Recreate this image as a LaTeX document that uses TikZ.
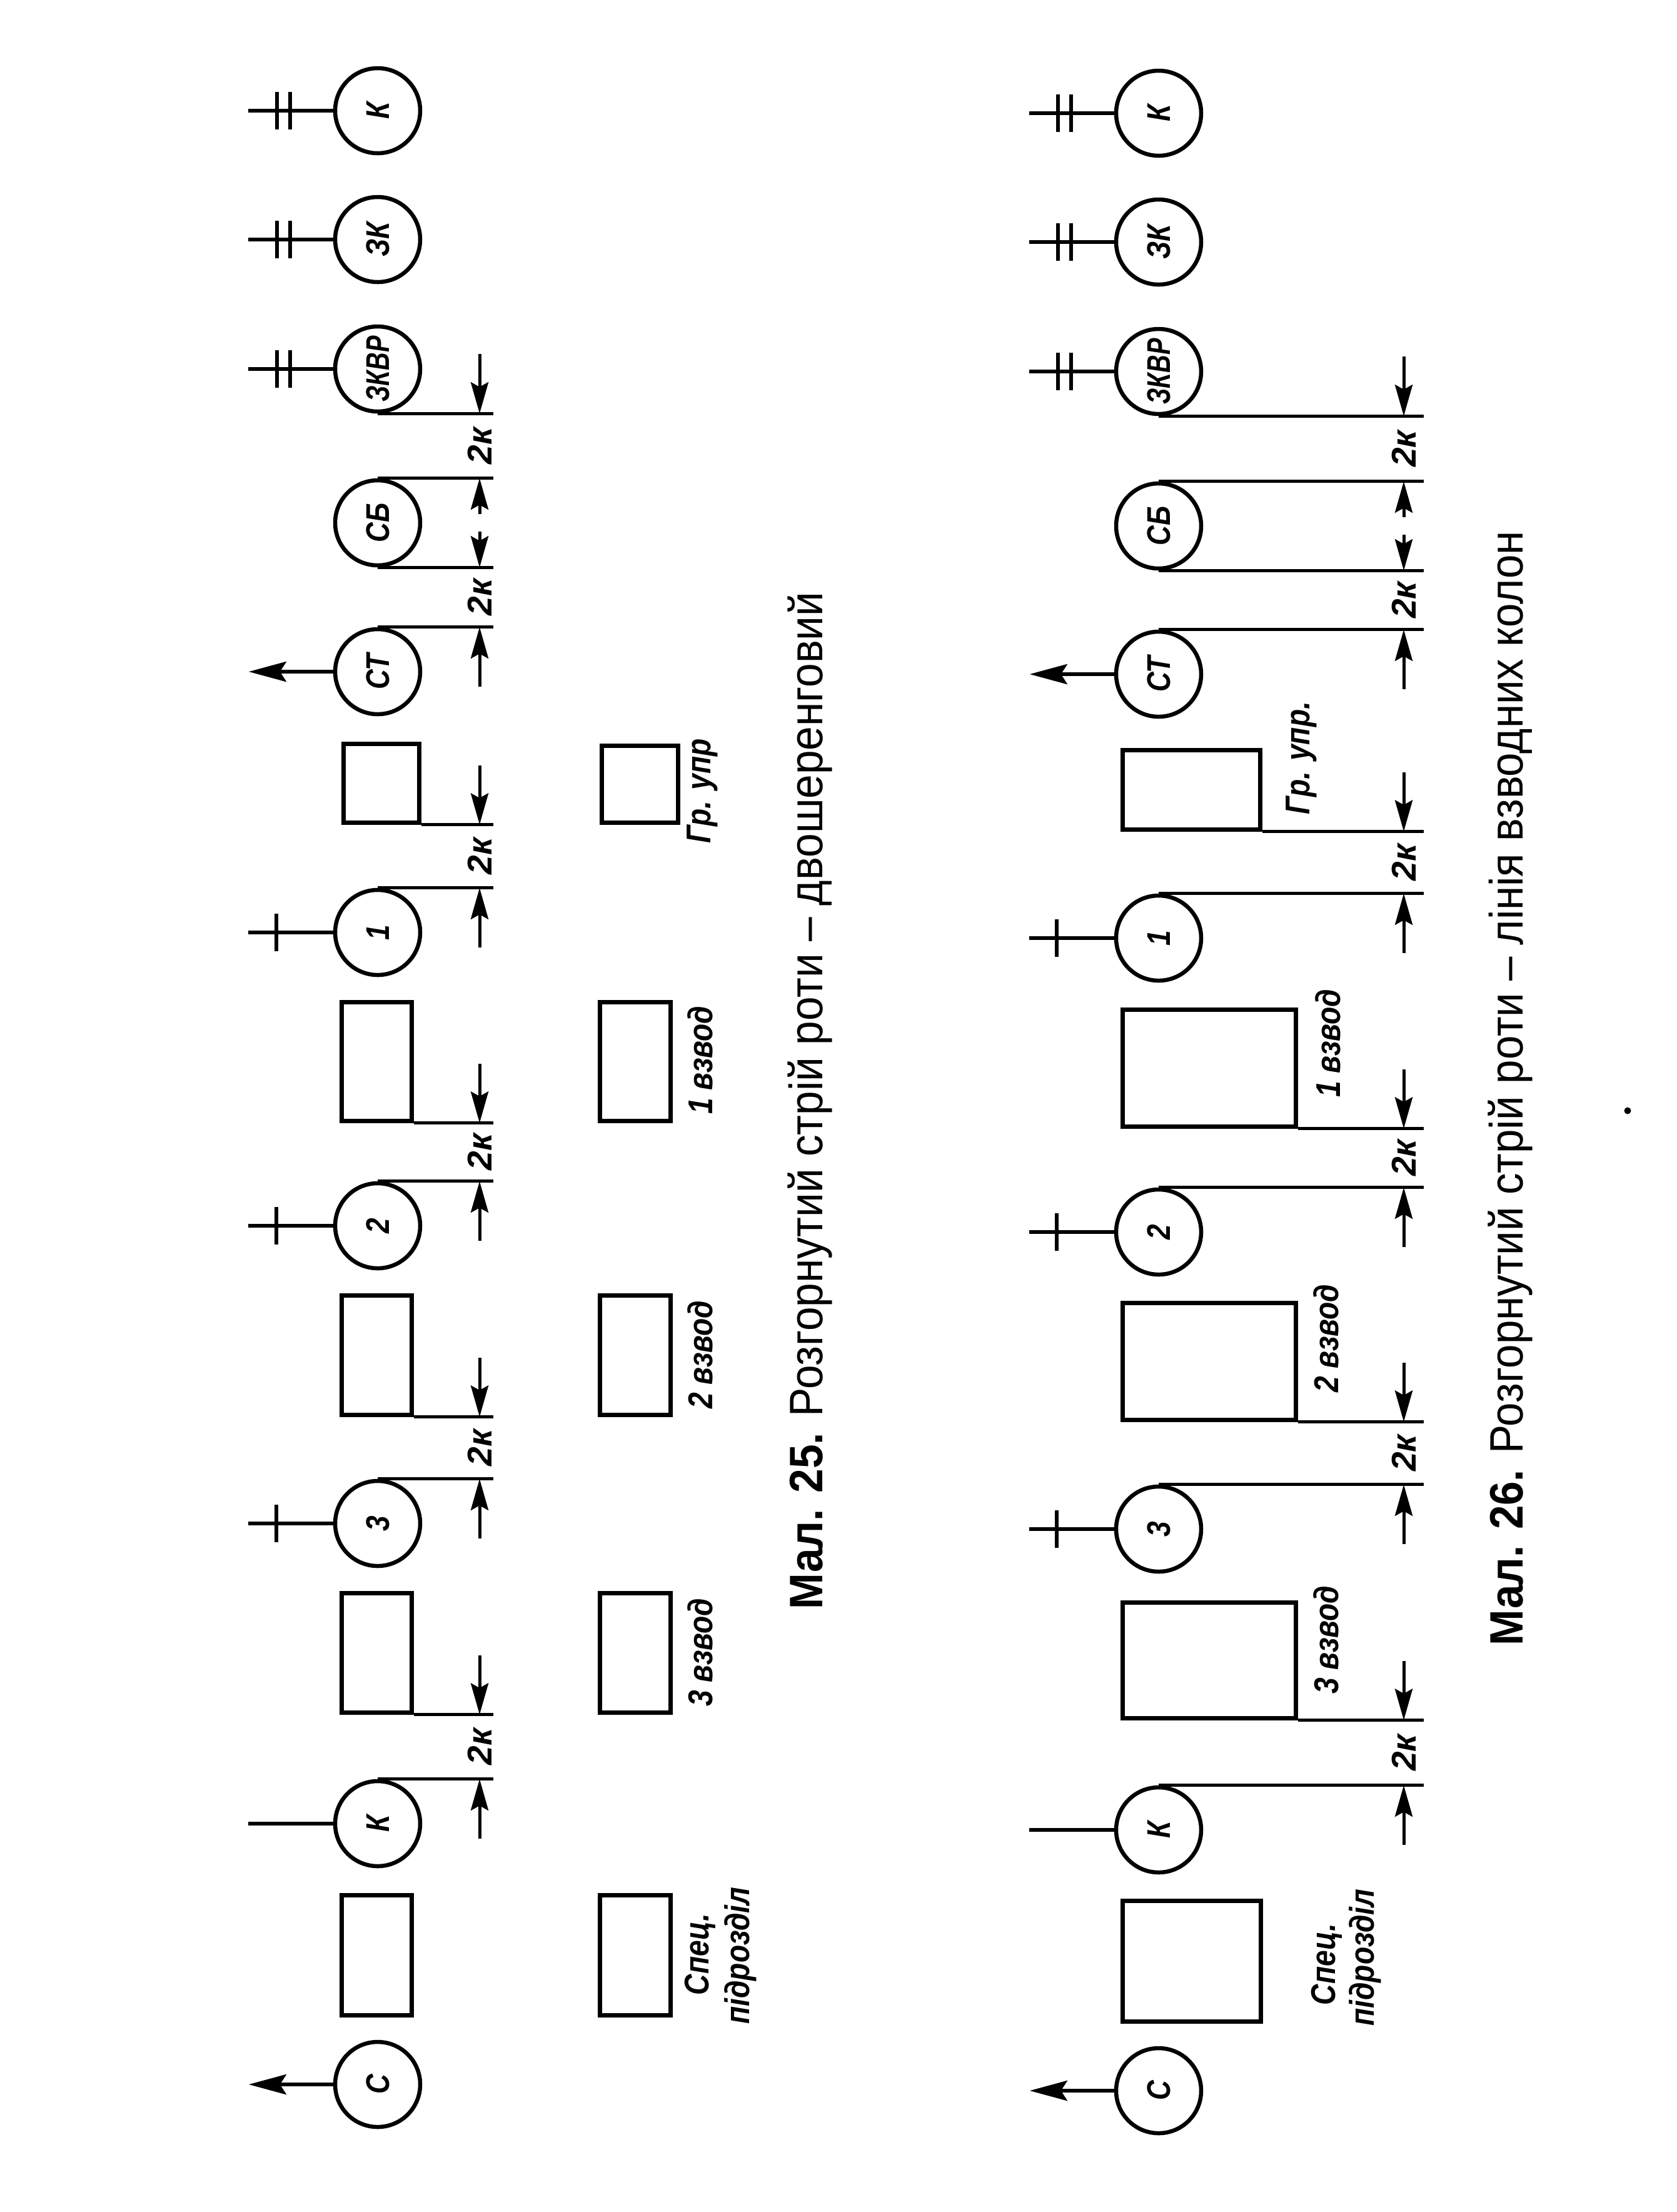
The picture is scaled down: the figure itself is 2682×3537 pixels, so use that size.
\documentclass[tikz,border=0pt]{standalone}
\usepackage{graphicx}
\usepackage{fontspec}
\setmainfont{Liberation Sans}
\newfontfamily\condf[FakeStretch=0.84]{Liberation Sans}
\usetikzlibrary{arrows.meta,calc}
\tikzset{
  ln/.style={line width=1.2pt},
  extl/.style={line width=1pt},
  pers/.style={circle, draw, line width=1.3pt, minimum size=27.2pt, inner sep=0pt,
    font=\condf\bfseries\itshape\fontsize{10.5}{12}\selectfont},
  unit/.style={rectangle, draw, line width=1.4pt, inner sep=0pt},
  dimar/.style={line width=1pt, -{Stealth[length=10pt,width=5.6pt,inset=1.5pt]}},
  movear/.style={line width=1.2pt, -{Stealth[length=12pt,width=6.4pt,inset=2pt]}},
  dimlab/.style={rotate=90, inner sep=0pt, font=\bfseries\itshape\fontsize{11}{13}\selectfont},
  vzlab/.style={rotate=90, inner sep=0pt, font=\condf\bfseries\itshape\fontsize{11}{13}\selectfont},
  grlab/.style={rotate=90, inner sep=0pt, font=\condf\bfseries\itshape\fontsize{11}{13}\selectfont},
  caption/.style={rotate=90, inner sep=0pt, font=\fontsize{15}{18}\selectfont},
}
\newcommand\ubox[5]{\node[unit, minimum width={(#4-#2)*0.2pt}, minimum height={(#5-#3)*0.2pt}] (#1) at ({(#2+#4)/2},{(#3+#5)/2}) {};}
\newcommand\ext[2]{\draw[extl] (#1) -- (#2 |- #1);}
\newcommand\dimpair[6]{%
  \coordinate (#4u) at (#1 |- #2);
  \coordinate (#4l) at (#1 |- #3);
  \draw[dimar] ([yshift=#5]#4u) -- (#4u);
  \draw[dimar] ([yshift=-#6]#4l) -- (#4l);
  \node[dimlab] (#4) at ($(#4u)!0.5!(#4l)$) {2к};}
\newcommand\staff[2]{\draw[ln] (#1.west) -- ++(-136,0) coordinate (#2);}
\newcommand\tick[2]{\draw[ln] ($(#1.west)+(#2,-30)$) -- ++(0,60);}
\newcommand\movearrow[2]{\draw[movear] (#1.west) -- ++(-135,0) coordinate (#2);}
\begin{document}
\begin{tikzpicture}[x=0.2pt,y=-0.2pt]
\useasboundingbox (0,0) rectangle (2682,3537);
\fill[white] (0,0) rectangle (2682,3537);

% ================= Мал. 25 =================
\coordinate (dT) at (767,0);
\coordinate (eT) at (789,0);
\node[pers] (tK) at (604,177) {\rotatebox{90}{К}};
\node[pers] (tZK) at (604,383) {\rotatebox{90}{ЗК}};
\node[pers] (tZKVR) at (604,590) {\rotatebox{90}{\resizebox{21pt}{\height}{ЗКВР}}};
\node[pers] (tSB) at (604,836) {\rotatebox{90}{СБ}};
\node[pers] (tST) at (604,1074) {\rotatebox{90}{СТ}};
\node[pers] (t1) at (604,1491) {\rotatebox{90}{1}};
\node[pers] (t2) at (604,1960) {\rotatebox{90}{2}};
\node[pers] (t3) at (604,2436) {\rotatebox{90}{3}};
\node[pers] (tKc) at (604,2916) {\rotatebox{90}{К}};
\node[pers] (tS) at (604,3333) {\rotatebox{90}{С}};

\ubox{tbG}{549}{1189}{670}{1315}
\ubox{tb1}{546}{1602}{658}{1792}
\ubox{tb2}{546}{2071}{658}{2262}
\ubox{tb3}{546}{2547}{658}{2738}
\ubox{tbS}{546}{3030}{658}{3222}
\ubox{tcG}{962}{1192}{1084}{1315}
\ubox{tc1}{959}{1602}{1072}{1792}
\ubox{tc2}{959}{2071}{1072}{2262}
\ubox{tc3}{959}{2547}{1072}{2738}
\ubox{tcS}{959}{3030}{1072}{3222}

\node[grlab] (tlG) at (1123,1265) {Гр. упр};
\node[vzlab] (tl1) at (1120,1695) {1 взвод};
\node[vzlab] (tl2) at (1120,2166) {2 взвод};
\node[vzlab] (tl3) at (1120,2642) {3 взвод};
\node[grlab] (tlS1) at (1120,3125) {Спец.};
\node[grlab] (tlS2) at (1184,3127) {підрозділ};

% left marks
\staff{tK}{tKe} \tick{tK}{-90} \tick{tK}{-69}
\staff{tZK}{tZKe} \tick{tZK}{-90} \tick{tZK}{-69}
\staff{tZKVR}{tZKVRe} \tick{tZKVR}{-90} \tick{tZKVR}{-69}
\staff{t1}{t1e} \tick{t1}{-91}
\staff{t2}{t2e} \tick{t2}{-91}
\staff{t3}{t3e} \tick{t3}{-91}
\staff{tKc}{tKce}
\movearrow{tST}{tSTe}
\movearrow{tS}{tSe}

% extension lines
\ext{tZKVR.south}{eT}
\ext{tSB.north}{eT}
\ext{tSB.south}{eT}
\ext{tST.north}{eT}
\ext{tbG.south east}{eT}
\ext{t1.north}{eT}
\ext{tb1.south east}{eT}
\ext{t2.north}{eT}
\ext{tb2.south east}{eT}
\ext{t3.north}{eT}
\ext{tb3.south east}{eT}
\ext{tKc.north}{eT}

% dimensions
\dimpair{dT}{tZKVR.south}{tSB.north}{tdA}{19pt}{11.5pt}
\dimpair{dT}{tSB.south}{tST.north}{tdB}{11.5pt}{19pt}
\dimpair{dT}{tbG.south east}{t1.north}{tdC}{19pt}{19pt}
\dimpair{dT}{tb1.south east}{t2.north}{tdD}{19pt}{19pt}
\dimpair{dT}{tb2.south east}{t3.north}{tdE}{19pt}{19pt}
\dimpair{dT}{tb3.south east}{tKc.north}{tdF}{19pt}{19pt}

\node[caption] (cap25) at (1295,1760) {\resizebox{325.4pt}{\height}{\textbf{Мал. 25.} Розгорнутий стрій роти – двошеренговий}};

% ================= Мал. 26 =================
\coordinate (dB) at (2245,0);
\coordinate (eB) at (2277,0);
\node[pers] (bK) at (1853,181) {\rotatebox{90}{К}};
\node[pers] (bZK) at (1853,387) {\rotatebox{90}{ЗК}};
\node[pers] (bZKVR) at (1853,594) {\rotatebox{90}{\resizebox{21pt}{\height}{ЗКВР}}};
\node[pers] (bSB) at (1853,841) {\rotatebox{90}{СБ}};
\node[pers] (bST) at (1853,1078) {\rotatebox{90}{СТ}};
\node[pers] (b1) at (1853,1500) {\rotatebox{90}{1}};
\node[pers] (b2) at (1853,1970) {\rotatebox{90}{2}};
\node[pers] (b3) at (1853,2445) {\rotatebox{90}{3}};
\node[pers] (bKc) at (1853,2926) {\rotatebox{90}{К}};
\node[pers] (bS) at (1853,3343) {\rotatebox{90}{С}};

\ubox{bbG}{1795}{1199}{2015}{1326}
\ubox{bb1}{1795}{1614}{2072}{1801}
\ubox{bb2}{1795}{2083}{2072}{2270}
\ubox{bb3}{1795}{2562}{2072}{2747}
\ubox{bbS}{1795}{3039}{2016}{3232}

\node[grlab] (blG) at (2081,1212) {Гр. упр.};
\node[vzlab] (bl1) at (2124,1668) {1 взвод};
\node[vzlab] (bl2) at (2121,2140) {2 взвод};
\node[vzlab] (bl3) at (2121,2622) {3 взвод};
\node[grlab] (blS1) at (2122,3141) {Спец.};
\node[grlab] (blS2) at (2183,3130) {підрозділ};

\staff{bK}{bKe} \tick{bK}{-90} \tick{bK}{-69}
\staff{bZK}{bZKe} \tick{bZK}{-90} \tick{bZK}{-69}
\staff{bZKVR}{bZKVRe} \tick{bZKVR}{-90} \tick{bZKVR}{-69}
\staff{b1}{b1e} \tick{b1}{-92}
\staff{b2}{b2e} \tick{b2}{-92}
\staff{b3}{b3e} \tick{b3}{-92}
\staff{bKc}{bKce}
\movearrow{bST}{bSTe}
\movearrow{bS}{bSe}

\ext{bZKVR.south}{eB}
\ext{bSB.north}{eB}
\ext{bSB.south}{eB}
\ext{bST.north}{eB}
\ext{bbG.south east}{eB}
\ext{b1.north}{eB}
\ext{bb1.south east}{eB}
\ext{b2.north}{eB}
\ext{bb2.south east}{eB}
\ext{b3.north}{eB}
\ext{bb3.south east}{eB}
\ext{bKc.north}{eB}

\dimpair{dB}{bZKVR.south}{bSB.north}{bdA}{19pt}{11.5pt}
\dimpair{dB}{bSB.south}{bST.north}{bdB}{11.5pt}{19pt}
\dimpair{dB}{bbG.south east}{b1.north}{bdC}{19pt}{19pt}
\dimpair{dB}{bb1.south east}{b2.north}{bdD}{19pt}{19pt}
\dimpair{dB}{bb2.south east}{b3.north}{bdE}{19pt}{19pt}
\dimpair{dB}{bb3.south east}{bKc.north}{bdF}{19pt}{19pt}

\node[caption] (cap26) at (2415,1740) {\resizebox{356.4pt}{\height}{\textbf{Мал. 26.} Розгорнутий стрій роти – лінія взводних колон}};

\node[circle, fill, inner sep=0pt, minimum size=2.2pt] (dot) at (2603,1776) {};
\end{tikzpicture}
\end{document}
